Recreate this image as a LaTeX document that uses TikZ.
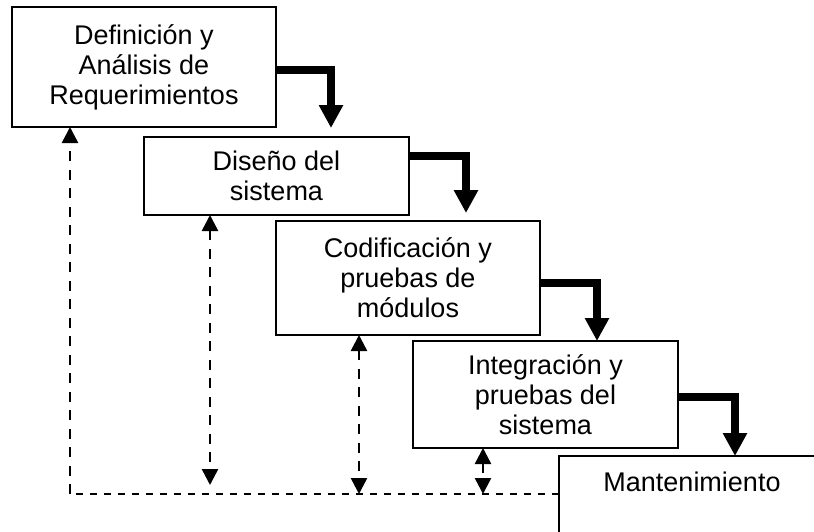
\documentclass[tikz,border=0pt]{standalone}
\usepackage{fontspec}
\setmainfont{Liberation Sans}
\usetikzlibrary{arrows.meta,calc}
\tikzset{
  stage/.style={draw, line width=1.8pt, inner sep=0pt, outer sep=0pt, anchor=north west,
    align=center, font=\fontsize{27}{30}\selectfont},
  flow/.style={line width=8pt, line join=miter, -{Triangle[length=23pt,width=23pt]}},
  fbv/.style={line width=2.5pt, dash pattern=on 10pt off 8.5pt},
  fbh/.style={line width=2.5pt, dash pattern=on 7pt off 7pt},
  fbtip/.tip={Triangle[length=16pt,width=16pt]},
  lbl/.style={inner sep=0pt, font=\fontsize{27}{30}\selectfont}
}
\begin{document}
\begin{tikzpicture}[x=1pt,y=-1pt]
\useasboundingbox (0,0) rectangle (814,531);
\clip (0,0) rectangle (814,531);
\node[stage, minimum width=264pt, minimum height=120pt] (b1) at (12,7)
  {Definición y\\Análisis de\\Requerimientos};
\node[stage, minimum width=265pt, minimum height=78pt] (b2) at (144,137)
  {Diseño del\\sistema};
\node[stage, minimum width=264pt, minimum height=114pt] (b3) at (276,221)
  {Codificación y\\pruebas de\\módulos};
\node[stage, minimum width=265pt, minimum height=107pt] (b4) at (413,341)
  {Integración y\\pruebas del\\sistema};
\node[stage, minimum width=266pt, minimum height=120pt] (b5) at (559,456) {};
\node[lbl] (b5t) at (692,482) {Mantenimiento};

% thick flow arrows
\draw[flow] ([yshift=-3pt]b1.east) -| ([xshift=54.5pt,yshift=9pt]b2.north);
\draw[flow] ([yshift=20.5pt]b2.east) -| ([xshift=58pt,yshift=8pt]b3.north);
\draw[flow] ([yshift=-5pt]b3.east) -| ([xshift=51.5pt]b4.north);
\draw[flow] ([yshift=-2.5pt]b4.east) -| ([xshift=43pt]b5.north);

% feedback dashed lines
\coordinate (base) at (70,494);
\coordinate (d1) at ([xshift=58pt]b1.south west);
\coordinate (d2) at ([xshift=66pt]b2.south west);
\coordinate (d3) at ([xshift=83pt]b3.south west);
\coordinate (d4) at ([xshift=70pt]b4.south west);
\draw[fbh] (base -| b5.west) -- (base);
\draw[fbv, -fbtip] (base) -- (d1);
\draw[fbv, fbtip-fbtip] (d2) -- ([yshift=9pt]d2 |- base);
\draw[fbv, fbtip-fbtip] (d3) -- (d3 |- base);
\draw[fbv, fbtip-fbtip] (d4) -- (d4 |- base);
\end{tikzpicture}
\end{document}
